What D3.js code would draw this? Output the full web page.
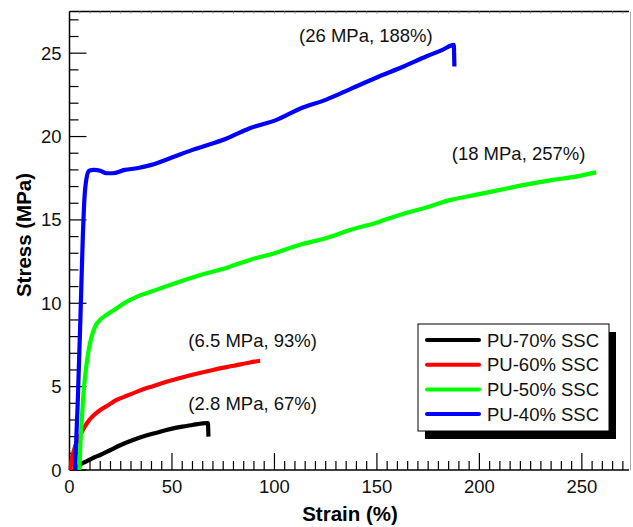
<!DOCTYPE html>
<html>
<head>
<meta charset="utf-8">
<script src="https://cdn.jsdelivr.net/npm/d3@7"></script>
<style>
  html, body { margin: 0; padding: 0; background: #fff; }
  svg { display: block; font-family: "Liberation Sans", Arial, sans-serif; }
</style>
</head>
<body>
<svg id="chart" width="633" height="527"></svg>
<script>
// ---- data ----
const seriesNames = ["PU-70% SSC", "PU-60% SSC", "PU-50% SSC", "PU-40% SSC"];
const seriesColors = ["#000000", "#ff0000", "#00ff00", "#0000ff"];

const pu70 = [[4,0],[5,0.3],[8,0.5],[12,0.75],[15,0.9],[20,1.2],[25,1.5],[31,1.8],[37,2.05],[43,2.25],[49,2.45],[55,2.6],[60,2.7],[65,2.8],[67.5,2.82],[67.8,2.0]];
const pu60 = [[0.5,0],[1,0.6],[2,1.1],[3,1.5],[4.5,1.9],[6.5,2.4],[9,2.9],[12,3.3],[15,3.6],[19,3.9],[23,4.2],[28,4.45],[33,4.7],[40,5.0],[49,5.35],[58,5.65],[70,6.0],[80,6.25],[88,6.45],[93,6.55]];
const pu50 = [[4.8,0],[5.3,1.5],[6,3],[6.7,4.4],[7.5,5.5],[8.4,6.4],[9.5,7.3],[10.8,8.0],[12.5,8.6],[14.9,9.0],[18,9.3],[23,9.7],[28,10.1],[33,10.4],[40,10.7],[49,11.1],[64,11.7],[76,12.1],[88,12.6],[100,13.0],[112,13.5],[125,13.9],[137,14.4],[149,14.8],[161,15.3],[173,15.7],[186,16.2],[198,16.5],[210,16.8],[222,17.1],[236,17.4],[247,17.6],[257,17.85]];
const pu40 = [[2.7,0],[4,4],[5.3,9],[6.5,14],[7.3,16.3],[8.3,17.5],[9.5,17.95],[12,18.0],[15,17.95],[18,17.8],[21,17.8],[27,18.0],[33,18.1],[40,18.3],[49,18.7],[60,19.2],[77,19.9],[88,20.5],[101,21.0],[113,21.7],[125,22.2],[138,22.9],[151,23.6],[163,24.2],[174,24.8],[182,25.2],[187.5,25.5],[187.8,24.2]];
const seriesData = [pu70, pu60, pu50, pu40];

const annotations = [
  {text: "(26 MPa, 188%)", x: 112, y: 25.65},
  {text: "(18 MPa, 257%)", x: 186.5, y: 18.6},
  {text: "(6.5 MPa, 93%)", x: 58, y: 7.4},
  {text: "(2.8 MPa, 67%)", x: 58, y: 3.6}
];

const xTicks = [0, 50, 100, 150, 200, 250];
const yTicks = [0, 5, 10, 15, 20, 25];

// ---- layout ----
const L = 69.5, R = 629, T = 11.5, B = 470;
const svg = d3.select("#chart");
const x = d3.scaleLinear().domain([0, 273]).range([L, R]);
const y = d3.scaleLinear().domain([0, 27.5]).range([B, T]);

// frame (top and right)
svg.append("line").attr("x1", L).attr("x2", R).attr("y1", T).attr("y2", T)
  .attr("stroke", "#000").attr("stroke-width", 1.5);
svg.append("line").attr("x1", R + 1.5).attr("x2", R + 1.5).attr("y1", T).attr("y2", B)
  .attr("stroke", "#aaa").attr("stroke-width", 1);

// top minor ticks
const xMinor = d3.range(0, 271, 5);
svg.append("g").selectAll("line").data(xMinor).join("line")
  .attr("x1", d => x(d)).attr("x2", d => x(d)).attr("y1", T).attr("y2", T + 2)
  .attr("stroke", "#888").attr("stroke-width", 1);

// x axis (ticks pointing inward)
const gx = svg.append("g").attr("transform", `translate(0,${B})`);
gx.append("line").attr("x1", L).attr("x2", R).attr("stroke", "#000").attr("stroke-width", 1.5);
gx.selectAll(".mt").data(xMinor).join("line").attr("class", "mt")
  .attr("x1", d => x(d)).attr("x2", d => x(d))
  .attr("y1", 0).attr("y2", d => (d % 50 === 0) ? -17 : -9)
  .attr("stroke", "#000").attr("stroke-width", 1.2);
gx.selectAll(".tl").data(xTicks).join("text").attr("class", "tl")
  .attr("x", d => x(d)).attr("y", 23)
  .attr("text-anchor", "middle").attr("font-size", 18.5).attr("fill", "#111").text(d => d);

// y axis
const yMinor = d3.range(0, 28, 1);
const gy = svg.append("g").attr("transform", `translate(${L},0)`);
gy.append("line").attr("y1", T).attr("y2", B).attr("stroke", "#000").attr("stroke-width", 1.5);
gy.selectAll(".mt").data(yMinor).join("line").attr("class", "mt")
  .attr("y1", d => y(d)).attr("y2", d => y(d))
  .attr("x1", 0).attr("x2", d => (d % 5 === 0) ? 17 : 9)
  .attr("stroke", "#000").attr("stroke-width", 1.2);
gy.selectAll(".tl").data(yTicks).join("text").attr("class", "tl")
  .attr("x", -8).attr("y", d => y(d) + 6.5)
  .attr("text-anchor", "end").attr("font-size", 18.5).attr("fill", "#111").text(d => d);

// axis titles
svg.append("text").attr("x", 350).attr("y", 521)
  .attr("text-anchor", "middle").attr("font-size", 20.5).attr("font-weight", "bold")
  .text("Strain (%)");
svg.append("text").attr("transform", `translate(31,235) rotate(-90)`)
  .attr("text-anchor", "middle").attr("font-size", 20.5).attr("font-weight", "bold")
  .text("Stress (MPa)");

// curves
const lineGen = d3.line().x(d => x(d[0])).y(d => y(d[1])).curve(d3.curveMonotoneX);
svg.append("g").selectAll("path").data(seriesData).join("path")
  .attr("d", d => lineGen(d))
  .attr("fill", "none")
  .attr("stroke", (d, i) => seriesColors[i])
  .attr("stroke-width", 4.2)
  .attr("stroke-linejoin", "round")
  .attr("stroke-linecap", "butt");

// annotations
svg.append("g").selectAll("text").data(annotations).join("text")
  .attr("x", d => x(d.x)).attr("y", d => y(d.y))
  .attr("font-size", 18.5).attr("fill", "#111").text(d => d.text);

// legend
const lg = svg.append("g");
const lx = 418, ly = 324, lw = 191, lh = 107;
lg.append("rect").attr("x", lx + 7).attr("y", ly + 8).attr("width", lw).attr("height", lh).attr("fill", "#000");
lg.append("rect").attr("x", lx).attr("y", ly).attr("width", lw).attr("height", lh)
  .attr("fill", "#fff").attr("stroke", "#000").attr("stroke-width", 1);
seriesNames.forEach((name, i) => {
  const yy = ly + 16 + i * 24.7;
  lg.append("line").attr("x1", lx + 9).attr("x2", lx + 61).attr("y1", yy).attr("y2", yy)
    .attr("stroke", seriesColors[i]).attr("stroke-width", 4).attr("stroke-linecap", "round");
  lg.append("text").attr("x", lx + 69).attr("y", yy + 6.5).attr("font-size", 18.5)
    .attr("fill", "#111").text(name);
});
</script>
</body>
</html>
